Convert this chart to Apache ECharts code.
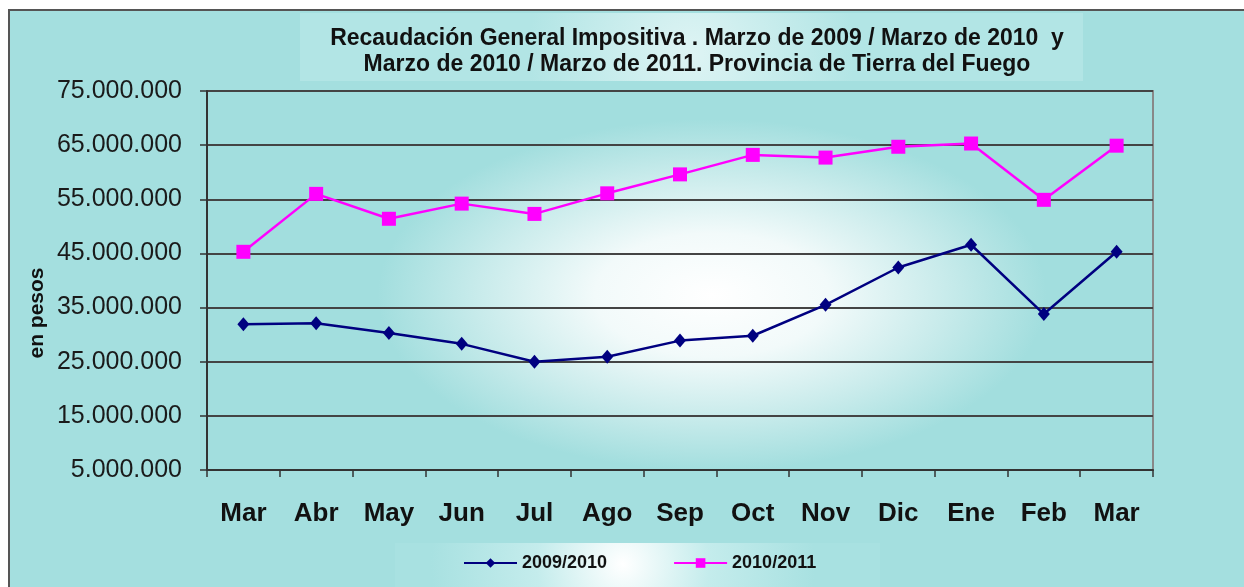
<!DOCTYPE html>
<html>
<head>
<meta charset="utf-8">
<script src="https://cdn.jsdelivr.net/npm/echarts@6/dist/echarts.min.js"></script>
<style>
html,body{margin:0;padding:0;background:#fff;}
#chart{width:1244px;height:587px;}
</style>
</head>
<body>
<div id="chart"></div>
<script>
const meses = ['Mar','Abr','May','Jun','Jul','Ago','Sep','Oct','Nov','Dic','Ene','Feb','Mar'];
const serie0910 = [31900000, 32100000, 30300000, 28300000, 25000000, 25900000, 28900000, 29800000, 35500000, 42400000, 46600000, 33800000, 45300000];
const serie1011 = [45300000, 56000000, 51400000, 54200000, 52300000, 56100000, 59600000, 63200000, 62700000, 64700000, 65300000, 54900000, 64900000];
const nombres = ['2009/2010', '2010/2011'];
const yMin = 5000000, yMax = 75000000, yStep = 10000000;

const FONT = 'Liberation Sans, Arial, sans-serif';
const TEAL = '#a4dfdf';

function miles(v){
    return String(Math.round(v)).replace(/\B(?=(\d{3})+(?!\d))/g, '.');
}

const chart = echarts.init(document.getElementById('chart'));

chart.setOption({
    backgroundColor: '#ffffff',
    animation: false,
    title: {
        text: 'Recaudación General Impositiva . Marzo de 2009 / Marzo de 2010  y\nMarzo de 2010 / Marzo de 2011. Provincia de Tierra del Fuego',
        left: 692, top: 21, textAlign: 'center',
        textStyle: {fontFamily: FONT, fontSize: 23, fontWeight: 'bold', color: '#111', lineHeight: 26}
    },
    legend: {
        data: nombres,
        left: 458, top: 549,
        itemWidth: 53, itemHeight: 12, itemGap: 66,
        textStyle: {fontFamily: FONT, fontSize: 18, fontWeight: 'bold', color: '#111'}
    },
    grid: {left: 207, right: 91, top: 91, bottom: 117, show: true, borderColor: '#888', borderWidth: 2, backgroundColor: 'transparent'},
    xAxis: {
        type: 'category', data: meses, boundaryGap: true,
        axisLine: {lineStyle: {color: '#333', width: 2}},
        axisTick: {show: true, length: 7, lineStyle: {color: '#333', width: 1.5}},
        axisLabel: {fontFamily: FONT, fontSize: 26, fontWeight: 'bold', color: '#111', margin: 31, interval: 0},
        splitLine: {show: false}
    },
    yAxis: {
        type: 'value', min: yMin, max: yMax, interval: yStep,
        axisLine: {show: true, lineStyle: {color: '#333', width: 2}},
        axisTick: {show: true, length: 7, lineStyle: {color: '#333', width: 1.5}},
        axisLabel: {fontFamily: FONT, fontSize: 25, color: '#1a1a1a', margin: 25, formatter: miles},
        splitLine: {show: true, lineStyle: {color: '#444', width: 2.2}}
    },
    graphic: [
        {type: 'rect', z: -10, shape: {x: 9, y: 10, width: 1300, height: 700}, style: {fill: TEAL, stroke: '#555', lineWidth: 2}},
        {type: 'rect', z: -9, shape: {x: 300, y: 13, width: 783, height: 68},
            style: {fill: new echarts.graphic.RadialGradient(0.5, 0.6, 2.4, [{offset: 0, color: '#def4f4'}, {offset: 1, color: '#b2e5e5'}])}},
        {type: 'rect', z: -9, shape: {x: 395, y: 543, width: 485, height: 60},
            style: {fill: new echarts.graphic.RadialGradient(0.47, 0.35, 3.2, [{offset: 0, color: '#ffffff'}, {offset: 0.45, color: '#c4ecec'}, {offset: 1, color: '#a8e1e1'}])}},
        {type: 'rect', z: -8, shape: {x: 207, y: 91, width: 946, height: 379}, style: {fill: '#a2dede'}},
        {type: 'circle', z: -7, x: 712, y: 295, scaleX: 1.9, shape: {cx: 0, cy: 0, r: 176},
            style: {fill: new echarts.graphic.RadialGradient(0.5, 0.5, 0.5, [{offset: 0, color: '#ffffff'}, {offset: 0.35, color: '#f2fafa'}, {offset: 0.7, color: '#c8ebeb'}, {offset: 1, color: '#a2dede'}])}},
        {type: 'text', z: 5, x: 37, y: 313, rotation: Math.PI / 2,
            style: {text: 'en pesos', font: 'bold 21px ' + FONT, fill: '#111', textAlign: 'center', textVerticalAlign: 'middle'}}
    ],
    series: [
        {
            name: nombres[0], type: 'line', data: serie0910, z: 3,
            symbol: 'diamond', symbolSize: [12, 14],
            lineStyle: {color: '#000080', width: 2.5},
            itemStyle: {color: '#000080'}
        },
        {
            name: nombres[1], type: 'line', data: serie1011, z: 3,
            symbol: 'rect', symbolSize: 14,
            lineStyle: {color: '#ff00ff', width: 2.5},
            itemStyle: {color: '#ff00ff'}
        }
    ]
});
</script>
</body>
</html>
